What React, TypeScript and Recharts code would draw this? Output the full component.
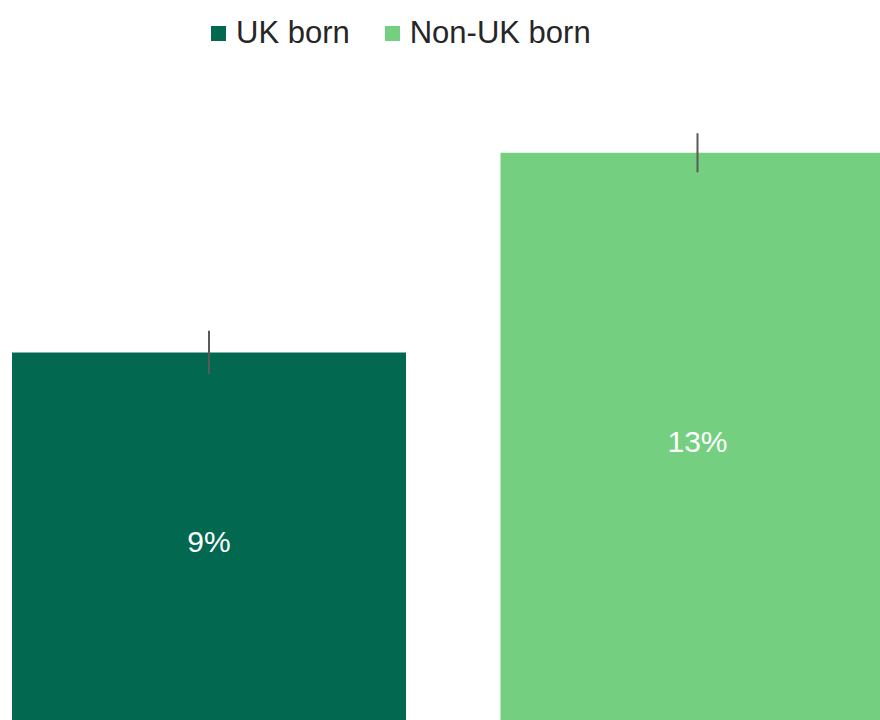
import React from 'react';
import { BarChart, Bar, XAxis, YAxis, Cell, LabelList, ErrorBar, Legend } from 'recharts';

const categories = ['UK born', 'Non-UK born'];
const values = [8.7, 13.3];
const errors = [0.5, 0.45];
const colors = ['#02684F', '#75CF80'];

const data = categories.map((name, i) => ({ name, value: values[i], err: errors[i] }));

const FONT = '"Liberation Sans", Arial, sans-serif';

const LegendContent = () => (
  <div style={{ display: 'flex', alignItems: 'center', fontFamily: FONT, fontSize: 31, color: '#262626' }}>
    {categories.map((c, i) => (
      <div key={c} style={{ display: 'flex', alignItems: 'center', marginRight: i === 0 ? 35 : 0 }}>
        <span style={{ display: 'inline-block', width: 15, height: 15, background: colors[i], marginRight: 10 }} />
        <span>{c}</span>
      </div>
    ))}
  </div>
);

const App: React.FC = () => {
  return (
    <div style={{ position: 'fixed', top: 0, left: 0, width: 880, height: 720, overflow: 'hidden', background: '#fff' }}>
      <div style={{ position: 'absolute', left: -35, top: 0 }}>
        <BarChart width={977} height={730} data={data} margin={{ top: 79, right: 0, bottom: 0, left: 0 }}>
          <XAxis dataKey="name" hide />
          <YAxis hide domain={[0, 15]} allowDataOverflow />
          <Legend
            verticalAlign="middle"
            layout="horizontal"
            content={() => <LegendContent />}
            wrapperStyle={{ top: 15, left: 246, width: 'auto' }}
          />
          <Bar dataKey="value" barSize={394} isAnimationActive={false}>
            {data.map((d, i) => (
              <Cell key={d.name} fill={colors[i]} />
            ))}
            <ErrorBar dataKey="err" width={0} stroke="#595959" strokeWidth={2} />
            <LabelList
              dataKey="value"
              position="center"
              formatter={(v: number) => `${Math.round(v)}%`}
              fill="#ffffff"
              fontSize={30}
              fontFamily={FONT}
            />
          </Bar>
        </BarChart>
      </div>
    </div>
  );
};

export default App;
